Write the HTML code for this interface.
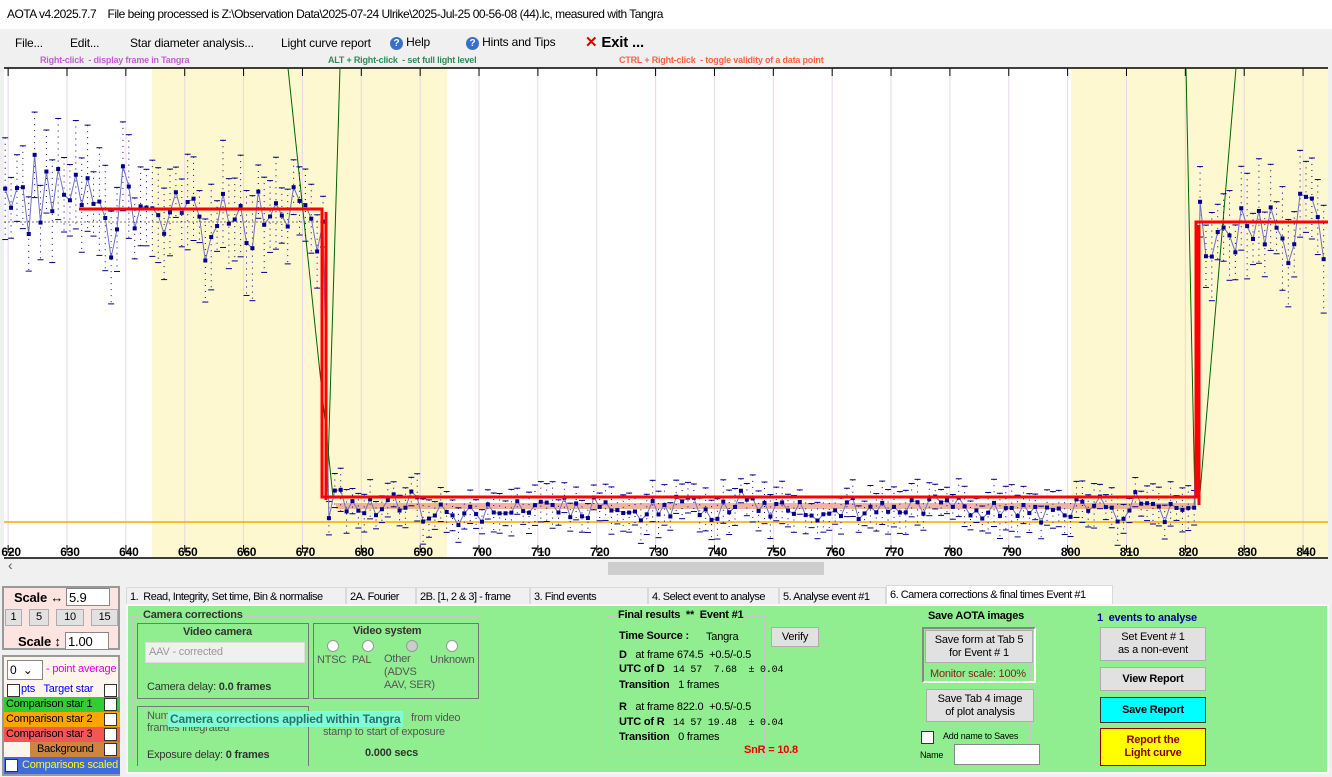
<!DOCTYPE html>
<html><head><meta charset="utf-8">
<style>
*{box-sizing:border-box}
body{margin:0;width:1332px;height:777px;background:#f0f0f0;font-family:"Liberation Sans",sans-serif;font-size:11px;letter-spacing:-0.2px;position:relative;overflow:hidden}
.a{position:absolute;white-space:nowrap}
.btn{position:absolute;background:#e1e1e1;border:1px solid #adadad;text-align:center;font-size:11px;display:flex;align-items:center;justify-content:center;line-height:13px}
.grp{position:absolute;border:1px solid #c8c8c8}
.gt{position:absolute;top:-8px;left:8px;background:#90ee90;padding:0 2px;font-weight:bold;color:#333;font-size:11px}
.tab{position:absolute;top:587px;height:18px;border:1px solid #d9d9d9;background:#f0f0f0;font-size:11px;letter-spacing:-0.5px;padding:3px 3px;color:#000;overflow:hidden}
.cb{position:absolute;width:13px;height:13px;border:1px solid #333;background:#fff}
</style></head><body>
<div class="a" style="left:0;top:0;width:1332px;height:29px;background:#fff"></div>
<div class="a" style="left:7px;top:7px;font-size:12px;letter-spacing:-0.5px">AOTA v4.2025.7.7&nbsp;&nbsp;&nbsp; File being processed is Z:\Observation Data\2025-07-24 Ulrike\2025-Jul-25 00-56-08 (44).lc, measured with Tangra</div>
<div class="a" style="top:36px;left:15px;font-size:12px">File...</div>
<div class="a" style="top:36px;left:70px;font-size:12px">Edit...</div>
<div class="a" style="top:36px;left:130px;font-size:12px">Star diameter analysis...</div>
<div class="a" style="top:36px;left:281px;font-size:12px">Light curve report</div>
<div class="a" style="top:35px;left:390px;font-size:12px"><span style="display:inline-block;width:13px;height:13px;border-radius:50%;background:#3a6fc8;color:#fff;font-size:10px;text-align:center;line-height:13px;font-weight:bold">?</span> Help</div>
<div class="a" style="top:35px;left:466px;font-size:12px"><span style="display:inline-block;width:13px;height:13px;border-radius:50%;background:#3a6fc8;color:#fff;font-size:10px;text-align:center;line-height:13px;font-weight:bold">?</span> Hints and Tips</div>
<div class="a" style="top:33px;left:585px;font-size:15px;font-weight:bold"><span style="color:#d00">✕</span> Exit ...</div>
<div class="a" style="top:55px;left:40px;font-size:9px;font-weight:bold;color:#c060d0">Right-click&nbsp; - display frame in Tangra</div>
<div class="a" style="top:55px;left:328px;font-size:9px;font-weight:bold;color:#2e8b57">ALT + Right-click&nbsp; - set full light level</div>
<div class="a" style="top:55px;left:619px;font-size:9px;font-weight:bold;color:#ff6040">CTRL + Right-click&nbsp; - toggle validity of a data point</div>
<svg id="plot" class="a" style="left:0;top:67px" width="1332" height="493"></svg>
<div class="a" style="left:0;top:560px;width:1332px;height:17px;background:#f0f0f0"></div>
<div class="a" style="left:8px;top:557px;font-size:14px;color:#555">‹</div>
<div class="a" style="left:608px;top:562px;width:216px;height:13px;background:#cdcdcd"></div>
<div class="a" style="left:2px;top:586px;width:118px;height:64px;background:#fde4e0;border:2px solid #999"></div>
<div class="a" style="left:14px;top:590px;font-weight:bold;font-size:13px">Scale ↔</div>
<div class="a" style="left:66px;top:588px;width:44px;height:18px;background:#fff;border:1px solid #888;padding:1px 2px;font-size:13px">5.9</div>
<div class="btn" style="left:5px;top:609px;width:17px;height:17px">1</div>
<div class="btn" style="left:29px;top:609px;width:20px;height:17px">5</div>
<div class="btn" style="left:56px;top:609px;width:28px;height:17px">10</div>
<div class="btn" style="left:91px;top:609px;width:27px;height:17px">15</div>
<div class="a" style="left:18px;top:634px;font-weight:bold;font-size:13px">Scale ↕</div>
<div class="a" style="left:65px;top:632px;width:44px;height:18px;background:#fff;border:1px solid #888;padding:1px 2px;font-size:13px">1.00</div>
<div class="a" style="left:2px;top:655px;width:118px;height:121px;background:#fdf5ec;border:2px solid #999"></div>
<div class="a" style="left:7px;top:660px;width:36px;height:20px;background:#fff;border:1px solid #888;padding:2px;font-size:12px">0 &nbsp;⌄</div>
<div class="a" style="left:46px;top:663px;color:#e000e0">- point average</div>
<div class="cb" style="left:7px;top:684px"></div><div class="a" style="left:21px;top:683px;color:#00f">pts&nbsp;&nbsp; Target star</div><div class="cb" style="left:104px;top:684px"></div>
<div class="a" style="left:4px;top:697px;width:116px;height:15px;background:#32cd32;padding:1px 2px">Comparison star 1</div>
<div class="a" style="left:4px;top:712px;width:116px;height:15px;background:#ffa500;padding:1px 2px">Comparison star 2</div>
<div class="a" style="left:4px;top:727px;width:116px;height:15px;background:#f45555;padding:1px 2px">Comparison star 3</div>
<div class="a" style="left:30px;top:742px;width:90px;height:15px;background:#cd853f;padding:1px 7px">Background</div>
<div class="cb" style="left:104px;top:698px"></div><div class="cb" style="left:104px;top:713px"></div><div class="cb" style="left:104px;top:728px"></div><div class="cb" style="left:104px;top:743px"></div>
<div class="a" style="left:4px;top:757px;width:116px;height:17px;background:#4169e1;color:#ff0;padding:2px 0 0 18px;overflow:hidden">Comparisons scaled</div>
<div class="cb" style="left:5px;top:759px"></div>
<div class="tab" style="left:126px;width:220px">1.&nbsp; Read, Integrity, Set time, Bin &amp; normalise</div>
<div class="tab" style="left:346px;width:70px">2A. Fourier plot</div>
<div class="tab" style="left:416px;width:114px">2B. [1, 2 &amp; 3] - frame test</div>
<div class="tab" style="left:530px;width:118px">3. Find events</div>
<div class="tab" style="left:648px;width:131px">4. Select event to analyse</div>
<div class="tab" style="left:779px;width:107px">5. Analyse event #1</div>
<div class="tab" style="left:886px;top:585px;height:20px;width:227px;background:#fff">6. Camera corrections &amp; final times Event #1</div>
<div class="a" style="left:126px;top:604px;width:1203px;height:170px;background:#90ee90;border:2px solid #f8f8f8"></div>
<div class="grp" style="left:132px;top:616px;width:350px;height:144px;border-bottom:none"><div class="gt">Camera corrections</div></div>
<div class="grp" style="left:137px;top:623px;width:172px;height:76px;border-color:#777"></div>
<div class="a" style="left:183px;top:626px;font-weight:bold;color:#333">Video camera</div>
<div class="a" style="left:145px;top:642px;width:160px;height:21px;background:#f0f0f0;border:1px solid #ddd;padding:3px;color:#999">AAV - corrected</div>
<div class="a" style="left:147px;top:681px;color:#333">Camera delay: <b>0.0 frames</b></div>
<div class="grp" style="left:313px;top:623px;width:166px;height:76px;border-color:#777"></div>
<div class="a" style="left:353px;top:625px;font-weight:bold;color:#333">Video system</div>
<div class="a" style="left:327px;top:640px;width:12px;height:12px;border-radius:50%;background:#fff;border:1px solid #999"></div>
<div class="a" style="left:362px;top:640px;width:12px;height:12px;border-radius:50%;background:#fff;border:1px solid #999"></div>
<div class="a" style="left:406px;top:640px;width:12px;height:12px;border-radius:50%;background:#ccc;border:1px solid #999"></div>
<div class="a" style="left:446px;top:640px;width:12px;height:12px;border-radius:50%;background:#fff;border:1px solid #999"></div>
<div class="a" style="left:317px;top:654px;color:#555">NTSC&nbsp; PAL</div>
<div class="a" style="left:384px;top:653px;color:#555;line-height:13px;white-space:normal;width:60px">Other<br>(ADVS<br>AAV, SER)</div>
<div class="a" style="left:430px;top:654px;color:#555">Unknown</div>
<div class="grp" style="left:137px;top:706px;width:172px;height:60px;border-color:#777;border-bottom:none"></div>
<div class="a" style="left:147px;top:710px;color:#555;line-height:12px">Num<br>frames integrated</div>
<div class="a" style="left:168px;top:711px;background:#7fffd4;font-weight:bold;color:#2e6f6f;font-size:12px;padding:1px 2px">Camera corrections applied within Tangra</div>
<div class="a" style="left:411px;top:712px;color:#555">from video</div>
<div class="a" style="left:323px;top:726px;color:#555">stamp to start of exposure</div>
<div class="a" style="left:365px;top:747px;font-weight:bold;color:#333">0.000 secs</div>
<div class="a" style="left:147px;top:749px;color:#333">Exposure delay: <b>0 frames</b></div>
<div class="grp" style="left:607px;top:616px;width:158px;height:144px"><div class="gt" style="color:#000">Final results&nbsp; **&nbsp; Event #1</div></div>
<div class="a" style="left:619px;top:630px;font-weight:bold">Time Source :</div><div class="a" style="left:706px;top:631px">Tangra</div>
<div class="btn" style="left:771px;top:627px;width:48px;height:20px">Verify</div>
<div class="a" style="left:619px;top:649px"><b>D</b>&nbsp;&nbsp; at frame 674.5&nbsp; +0.5/-0.5</div>
<div class="a" style="left:619px;top:663px"><b>UTC of D</b>&nbsp;&nbsp; <span style="font-family:'Liberation Mono';font-size:10px">14 57&nbsp; 7.68&nbsp; ± 0.04</span></div>
<div class="a" style="left:619px;top:679px"><b>Transition</b>&nbsp;&nbsp; 1 frames</div>
<div class="a" style="left:619px;top:701px"><b>R</b>&nbsp;&nbsp; at frame 822.0&nbsp; +0.5/-0.5</div>
<div class="a" style="left:619px;top:716px"><b>UTC of R</b>&nbsp;&nbsp; <span style="font-family:'Liberation Mono';font-size:10px">14 57 19.48&nbsp; ± 0.04</span></div>
<div class="a" style="left:619px;top:731px"><b>Transition</b>&nbsp;&nbsp; 0 frames</div>
<div class="a" style="left:744px;top:744px;color:#e00;font-weight:bold">SnR = 10.8</div>
<div class="grp" style="left:917px;top:617px;width:114px;height:147px"><div class="gt" style="color:#000">Save AOTA images</div></div>
<div class="a" style="left:922px;top:627px;width:114px;height:56px;border:2px solid #888;border-right-color:#fff;border-bottom-color:#fff"></div>
<div class="btn" style="left:925px;top:630px;width:108px;height:33px">Save form at Tab 5<br>for Event # 1</div>
<div class="a" style="left:930px;top:668px;color:#8b1a1a">Monitor scale: 100%</div>
<div class="btn" style="left:926px;top:689px;width:108px;height:33px">Save Tab 4 image<br>of plot analysis</div>
<div class="cb" style="left:921px;top:731px"></div><div class="a" style="left:943px;top:731px;font-size:9px">Add name to Saves</div>
<div class="a" style="left:920px;top:750px;font-size:9px">Name</div>
<div class="a" style="left:954px;top:744px;width:86px;height:21px;background:#fff;border:1px solid #888"></div>
<div class="a" style="left:1097px;top:612px;font-weight:bold;color:#00008b">1&nbsp; events to analyse</div>
<div class="btn" style="left:1100px;top:627px;width:106px;height:34px">Set Event # 1<br>as a non-event</div>
<div class="btn" style="left:1100px;top:667px;width:106px;height:24px;font-weight:bold">View Report</div>
<div class="btn" style="left:1100px;top:697px;width:106px;height:26px;font-weight:bold;background:#0ff;border-color:#333">Save Report</div>
<div class="btn" style="left:1100px;top:728px;width:106px;height:38px;font-weight:bold;background:#ff0;border-color:#8b0000;color:#8b0000">Report the<br>Light curve</div>
<script>
var s=document.getElementById('plot'),h='';
function X(f){return 67+(f-630)*5.886}
var O=67;
function Y(y){return y-O}
h+='<rect x="4" y="1" width="1324" height="490" fill="#fff"/>';
h+='<rect x="152" y="1" width="295" height="490" fill="#fdf8cf"/><rect x="1071" y="1" width="257" height="490" fill="#fdf8cf"/>';
h+='<line x1="4" y1="1" x2="1328" y2="1" stroke="#000" stroke-width="1.5"/><line x1="4" y1="491" x2="1328" y2="491" stroke="#000" stroke-width="1.5"/>';
for(var f=620;f<=840;f+=10){var x=X(f);h+='<line x1="'+x+'" y1="1" x2="'+x+'" y2="478" stroke="#ead6ea"/><line x1="'+x+'" y1="1" x2="'+x+'" y2="9" stroke="#000"/><path d="M'+x+' 478v7h6" stroke="#000" fill="none"/><text x="'+(x+3)+'" y="489" font-size="12" font-weight="bold" text-anchor="middle" font-family="Liberation Sans">'+f+'</text>'}
h+='<line x1="4" y1="'+Y(522)+'" x2="1328" y2="'+Y(522)+'" stroke="#ffa500" stroke-width="1.5"/>';
h+='<line x1="4" y1="'+Y(222)+'" x2="322" y2="'+Y(222)+'" stroke="#777" stroke-dasharray="2,2"/>';
h+='<path d="M288 1 L333 '+Y(497)+'" stroke="#006400" fill="none"/><path d="M340 1 L327 '+Y(500)+'" stroke="#006400" fill="none"/>';
h+='<path d="M1186 1 L1195 '+Y(505)+'" stroke="#006400" fill="none"/><path d="M1236 1 L1199 '+Y(505)+'" stroke="#006400" fill="none"/>';
h+='<rect x="336" y="'+Y(503)+'" width="860" height="6" fill="#e9967a" opacity="0.7"/>';
var seed=7;function r(){seed=(seed*16807)%2147483647;return seed/2147483647}
function g(){return (r()+r()+r()-1.5)*1.4}
var pts=[],ln='';
for(var f=619.5;f<=844;f+=1){var m,sd;if(f<674.5){m=212;sd=28}else if(f<822){m=508;sd=10}else{m=232;sd=30}
var y=m+g()*sd; if(f<633) y=190+g()*35;pts.push([X(f),Y(y)]);}
var eb='';
pts.forEach(function(p,i){ln+=(i?'L':'M')+p[0].toFixed(1)+' '+p[1].toFixed(1);var top=p[1]<300;var e=(top?25:12)+r()*(top?30:12);
eb+='<line x1="'+p[0]+'" y1="'+(p[1]-e)+'" x2="'+p[0]+'" y2="'+(p[1]+e)+'" stroke="#00008b" stroke-dasharray="1,5"/><line x1="'+(p[0]-3)+'" y1="'+(p[1]-e)+'" x2="'+(p[0]+3)+'" y2="'+(p[1]-e)+'" stroke="#00008b"/><line x1="'+(p[0]-3)+'" y1="'+(p[1]+e)+'" x2="'+(p[0]+3)+'" y2="'+(p[1]+e)+'" stroke="#00008b"/>'});
h+=eb+'<path d="'+ln+'" stroke="#7070c0" fill="none" stroke-width="1"/>';
pts.forEach(function(p){h+='<rect x="'+(p[0]-2)+'" y="'+(p[1]-2)+'" width="4" height="4" fill="#00008b"/>'});
h+='<path d="M79 '+Y(209)+' H322 V'+Y(497)+' H1196 V'+Y(222)+' H1328" stroke="#f00" stroke-width="3" fill="none"/>';
h+='<path d="M326 '+Y(212)+' V'+Y(500)+' M1199 '+Y(225)+' V'+Y(505)+'" stroke="#f00" stroke-width="3" fill="none"/>';
s.innerHTML=h;
</script>
</body></html>
